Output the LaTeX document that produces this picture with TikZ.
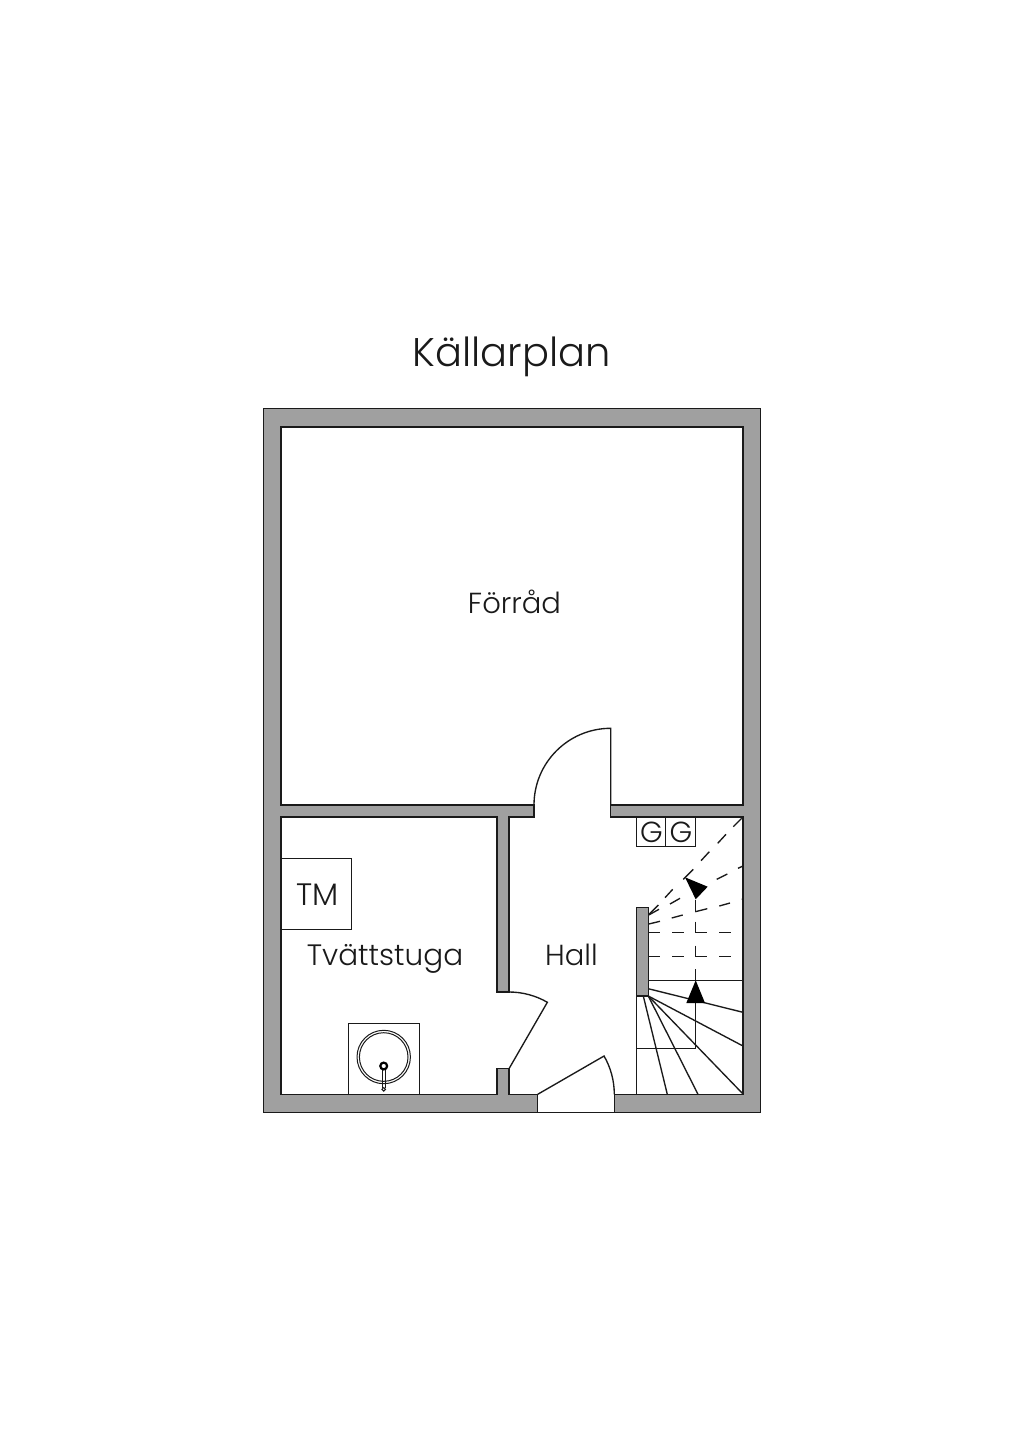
\documentclass[tikz,border=0pt]{standalone}
\usepackage{fontspec}
\setmainfont{Poppins}[UprightFont=* Light]
\definecolor{wallgray}{HTML}{A0A0A0}
\definecolor{ink}{HTML}{1A1A1A}
\tikzset{
  wall/.style={fill=wallgray,draw=ink,line width=1.2pt,line join=miter},
  room/.style={draw=ink,line width=1.1pt,fill=white},
  fine/.style={draw=ink,line width=1.35pt},
  thin/.style={draw=ink,line width=1pt},
  label/.style={text=ink,inner sep=0pt,anchor=base},
  head/.style={fill=black,draw=none}
}
\begin{document}
\begin{tikzpicture}[x=1pt,y=-1pt]
\useasboundingbox (0,0) rectangle (1024,1448);
\fill[white] (0,0) rectangle (1024,1448);
% walls and interior
\draw[wall] (263.5,408.5) rectangle (760.5,1112.2);
\draw[room] (281,427)--(743,427)--(743,805)--(610.7,805)--(610.7,817)--(743,817)--(743,1094.3)--(614.3,1094.3)--(614.3,1112.2)--(537.7,1112.2)--(537.7,1094.3)--(509,1094.3)--(509,1068.7)--(497,1068.7)--(497,1094.3)--(281,1094.3)--(281,817)--(497,817)--(497,992)--(509,992)--(509,817)--(534,817)--(534,805)--(281,805)--cycle;
% doors
\draw[fine] (534,805) arc[start angle=180,end angle=270,radius=76.7] -- (610.7,805);
\draw[fine] (509,992) arc[start angle=270,end angle=300,radius=76.7] -- (509,1068.7);
\draw[fine] (614.3,1094.3) arc[start angle=0,end angle=-30,radius=76.6] -- (537.7,1094.3);
% stair wall
\draw[wall] (636.7,907.7) rectangle (648.3,996);
% stair solid lines
\draw[fine] (648.3,980.3)--(743,980.3);
\draw[fine] (648.3,988.7)--(743,1012.3);
\draw[fine] (648.3,996)--(743,1046);
\draw[fine] (648.3,996)--(743,1094);
\draw[fine] (643.3,996)--(667.3,1094.3);
\draw[fine] (648.3,996)--(698,1094.3);
\draw[fine] (636.7,996)--(636.7,1094.3);
\draw[fine] (636.7,1048.3)--(695.7,1048.3)--(695.7,1003);
\fill[head] (695.7,980.3)--(705,1003)--(686.3,1003)--cycle;
\fill[head] (685,877.3)--(707.7,886.7)--(695.7,899.3)--cycle;
% stair dashes
\foreach \a/\b/\c/\d in {
 695.7/969/695.7/980.3, 695.7/945.7/695.7/956.7, 695.7/921.7/695.7/932.7, 695.7/900/695.7/911.7,
 649.3/956.7/660/956.7, 672.3/956.7/684/956.7, 695.7/956.7/707.3/956.7, 719.3/956.7/731/956.7,
 649.3/932.7/660/932.7, 672.3/932.7/684/932.7, 695.7/932.7/707.3/932.7, 719.3/932.7/731/932.7,
 648.7/924/660/921.3, 671.7/918/682.7/915, 695.3/911.7/707.3/908.7, 719.3/906/730/903, 741.7/899.3/743/899,
 648.7/915/659/909.3, 670/904/680/898.3, 716.7/879.3/727.3/874, 738/868.3/743/866,
 649.3/914/658.3/905, 665/897.7/672.7/889.3, 683.3/879.3/693.3/869.3, 701/860.7/709.3/851.7, 717.7/843.3/726/834.3, 733.3/826.7/741.7/818.3}
  {\draw[fine] (\a,\b)--(\c,\d);}
% gas boxes
\draw[thin] (636.7,817) rectangle (665.7,846);
\draw[thin] (665.7,817) rectangle (695.7,846);
% TM box
\draw[thin] (281,858.7) rectangle (351.7,929.3);
% basin
\draw[thin] (348.3,1094.3)--(348.3,1023.7)--(419.3,1023.7)--(419.3,1094.3);
\draw[thin] (383.7,1057) circle[radius=26.7];
\draw[thin] (383.7,1057) circle[radius=24.3];
\draw[thin] (382.2,1070)--(382.2,1087.5);
\draw[thin] (385.2,1070)--(385.2,1087.5);
\draw[draw=black,line width=2.2pt,fill=white] (383.7,1066) circle[radius=3.4];
\draw[thin,fill=white] (383.7,1089.3) circle[radius=1.8];
% texts
\node[label,font=\fontsize{40pt}{40pt}\selectfont] (title) at (511.5,366) {Källarplan};
\node[label,font=\fontsize{29pt}{29pt}\selectfont] (forrad) at (514.5,613) {Förråd};
\node[label,font=\fontsize{29.5pt}{29.5pt}\selectfont] (tvatt) at (385,965) {Tvättstuga};
\node[label,font=\fontsize{29pt}{29pt}\selectfont] (hall) at (571.5,965) {Hall};
\node[label,font=\fontsize{31pt}{31pt}\selectfont] (tm) at (317.5,905) {TM};
\node[label,font=\fontsize{29pt}{29pt}\selectfont] (g1) at (651.5,842) {G};
\node[label,font=\fontsize{29pt}{29pt}\selectfont] (g2) at (681,842) {G};
\end{tikzpicture}
\end{document}
